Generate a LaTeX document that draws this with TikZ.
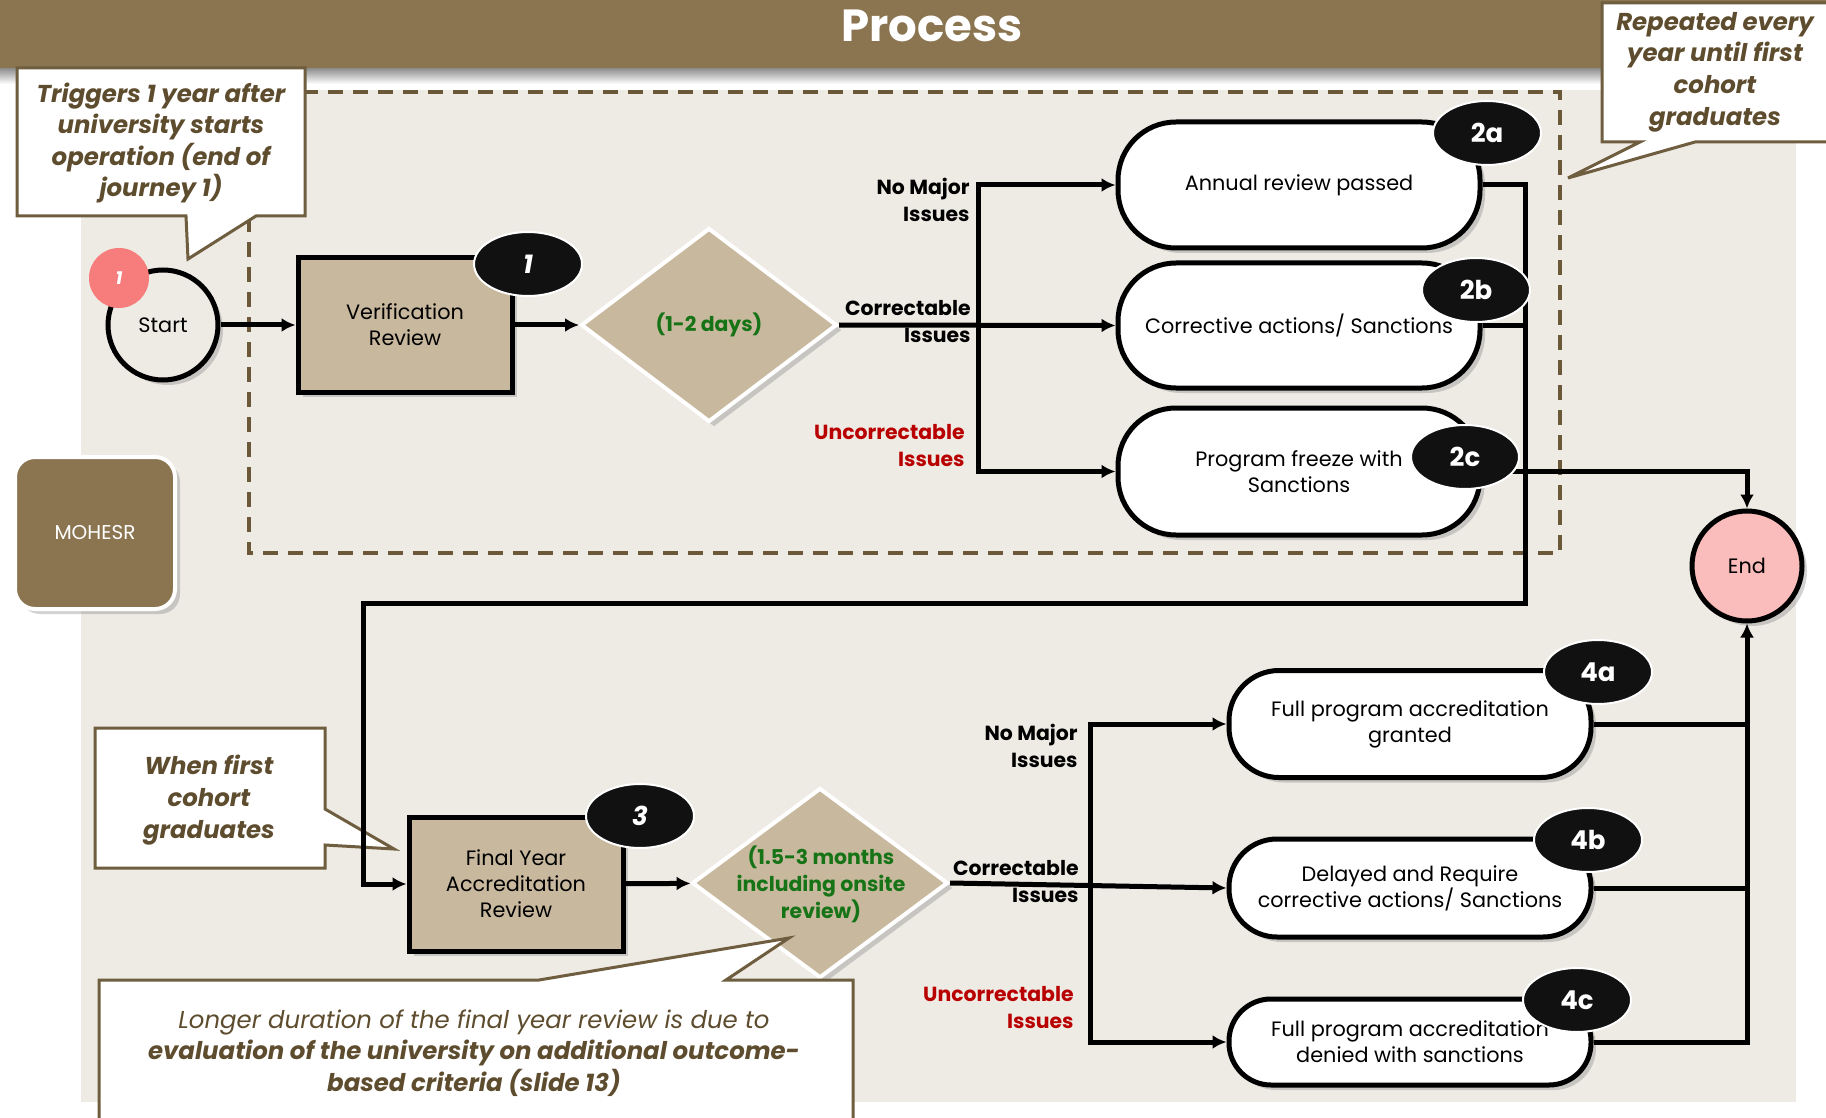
\documentclass[tikz,border=0pt]{standalone}
\usepackage{fontspec}
\setmainfont{Poppins}
\usetikzlibrary{shapes.geometric,shadows,positioning,arrows.meta}

\definecolor{barbrown}{RGB}{139,117,81}
\definecolor{bggray}{RGB}{238,234,228}
\definecolor{boxtan}{RGB}{200,184,158}
\definecolor{dashbrown}{RGB}{106,88,56}
\definecolor{notebrown}{RGB}{110,93,62}
\definecolor{notetext}{RGB}{94,76,46}
\definecolor{daygreen}{RGB}{22,115,22}
\definecolor{issuered}{RGB}{185,0,0}
\definecolor{endpink}{RGB}{251,188,188}
\definecolor{badgered}{RGB}{247,124,124}
\definecolor{badgeblack}{RGB}{17,17,17}

\newcommand\bodysize{\fontsize{10.4}{13}\selectfont}
\newcommand\lblsize{\fontsize{10.2}{13.5}\selectfont}
\newcommand\notesize{\fontsize{12.2}{15.8}\selectfont}
\newcommand\badgesize{\fontsize{13}{15}\selectfont}

\begin{document}
\begin{tikzpicture}[x=0.5pt, y=-0.5pt, >={Latex[length=7pt,width=7pt]},
	flow/.style={line width=2.5pt, black},
	shadowed/.style={drop shadow={opacity=0.35, shadow xshift=2.5pt, shadow yshift=-2.5pt}},
	stadium/.style={draw, line width=2.5pt, fill=white, minimum width=181pt,
		align=center, font=\bodysize, inner sep=0pt, shadowed},
	tanbox/.style={draw, line width=2.5pt, fill=boxtan, minimum width=107pt,
		minimum height=67pt, align=center, font=\bodysize, shadowed},
	decision/.style={diamond, draw=white, line width=2pt, fill=boxtan,
		inner sep=0pt, minimum width=128pt, shadowed},
	daytext/.style={align=center, text=daygreen, font=\lblsize\bfseries},
	terminal/.style={circle, draw, line width=2.5pt, minimum size=55pt,
		font=\bodysize, shadowed},
	badge/.style={ellipse, draw=white, line width=1pt, fill=badgeblack, text=white,
		minimum width=54pt, minimum height=32pt, inner sep=0pt, font=\badgesize\bfseries},
	branchlbl/.style={anchor=east, align=right, inner sep=0pt, font=\lblsize\bfseries},
	callout/.style={draw=notebrown, line width=1.5pt, fill=white},
	notetext/.style={align=center, text=notetext, font=\notesize\bfseries\itshape},
	]
	\useasboundingbox (0,0) rectangle (1826,1118);
	\fill[white] (0,0) rectangle (1826,1118);

	\shade[top color=black!45, bottom color=white] (0,68) rectangle (1826,84);
	\fill[barbrown] (0,0) rectangle (1826,68);
	\node[text=white, font=\fontsize{22.5}{26}\selectfont\bfseries] (title) at (932,26) {Process};

	\fill[bggray] (81,90) rectangle (1796,1102);
	\draw[dashbrown, line width=1.6pt, dash pattern=on 7.5pt off 5pt] (249,92) rectangle (1560,553);

	\node[draw=white, line width=2pt, fill=barbrown, rounded corners=10pt,
		minimum width=80pt, minimum height=76pt, text=white,
		font=\fontsize{10}{12}\selectfont, shadowed] (mohesr) at (95,533) {MOHESR};

	\node[terminal, fill=bggray] (start) at (163,325) {Start};
	\node[tanbox] (verif) at (405,325) {Verification\\Review};
	\node[decision, minimum height=97pt] (d1) at (709,325) {};
	\node[daytext] (d1t) at (d1) {(1-2 days)};

	\node[stadium, minimum height=63pt, rounded corners=29pt] (b2a) at (1299,185) {Annual review passed};
	\node[stadium, minimum height=62.5pt, rounded corners=29pt] (b2b) at (1299,325.5) {Corrective actions/ Sanctions};
	\node[stadium, minimum height=63.5pt, rounded corners=29pt] (b2c) at (1299,471.5) {Program freeze with\\Sanctions};

	\node[branchlbl] (l2a) at (970,200) {No Major\\Issues};
	\node[branchlbl] (l2b) at (971,322) {Correctable\\Issues};
	\node[branchlbl, text=issuered] (l2c) at (965,446) {Uncorrectable\\Issues};

	\node[terminal, fill=endpink] (fin) at (1747,566) {End};

	\node[tanbox] (rev3) at (516,884) {Final Year\\Accreditation\\Review};
	\node[decision, minimum height=95pt] (d2) at (820,883) {};
	\node[daytext] (d2t) at (821,884) {(1.5-3 months\\including onsite\\review)};

	\node[stadium, minimum height=53.5pt, rounded corners=25pt] (b4a) at (1410,724) {Full program accreditation\\granted};
	\node[stadium, minimum height=49pt, rounded corners=24pt] (b4b) at (1410,888) {Delayed and Require\\corrective actions/ Sanctions};
	\node[stadium, minimum height=43pt, rounded corners=21pt] (b4c) at (1410,1042) {Full program accreditation\\denied with sanctions};

	\node[branchlbl] (l4a) at (1078,746) {No Major\\Issues};
	\node[branchlbl] (l4b) at (1079,882) {Correctable\\Issues};
	\node[branchlbl, text=issuered] (l4c) at (1074,1008) {Uncorrectable\\Issues};

	\draw[callout] (17,68) -- (305,68) -- (305,216) -- (256,216) -- (188,259)
		-- (186,216) -- (17,216) -- cycle;
	\node[notetext] (note1) at (161,143) {Triggers 1 year after\\university starts\\operation (end of\\journey 1)};

	\draw[callout] (1602,3) -- (1832,3) -- (1832,142) -- (1695,142) -- (1568,178)
		-- (1640,142) -- (1602,142) -- cycle;
	\node[notetext] (note2) at (1715,72) {Repeated every\\year until first\\cohort\\graduates};

	\draw[callout] (95,728) -- (325,728) -- (325,809) -- (394,849) -- (325,845)
		-- (325,868) -- (95,868) -- cycle;
	\node[notetext] (note3) at (209,800) {When first\\cohort\\graduates};

	\draw[callout] (99,980) -- (539,980) -- (789,938) -- (726,980) -- (853,980)
		-- (853,1125) -- (99,1125) -- cycle;
	\node[align=center, text=notetext, font=\notesize] (note4) at (474,1053)
		{\itshape Longer duration of the final year review is due to\\
		\bfseries\itshape evaluation of the university on additional outcome-\\
		\bfseries\itshape based criteria (slide 13)};

	\draw[flow, ->] (start) -- (verif);
	\draw[flow, ->] (verif) -- (d1);
	\coordinate (j1) at (978,325);
	\draw[flow, ->] (d1.east) -- (b2b.west);
	\draw[flow, ->] (j1) |- (b2a.west);
	\draw[flow, ->] (j1) |- (b2c.west);

	\coordinate (m1) at (1525,603);
	\coordinate (k1) at (363,603);
	\draw[flow, ->] (b2a.east) -| (m1) -- (k1) |- (rev3.west);
	\draw[flow] (b2b.east) -- (b2b.east -| m1);
	\draw[flow, ->] (b2c.east) -| (fin.north);

	\draw[flow, ->] (rev3) -- (d2);
	\coordinate (j2) at (1090,885);
	\draw[flow, ->] (d2.east) -- (b4b.west);
	\draw[flow, ->] (j2) |- (b4a.west);
	\draw[flow, ->] (j2) |- (b4c.west);
	\draw[flow, ->] (b4c.east) -| (fin.south);
	\draw[flow] (b4a.east) -- (b4a.east -| fin.south);
	\draw[flow] (b4b.east) -- (b4b.east -| fin.south);

	\node[circle, fill=badgered, text=white, minimum size=30pt, inner sep=0pt,
		font=\fontsize{9}{11}\selectfont\bfseries\itshape] (s1) at (119,278) {1};
	\node[badge, font=\badgesize\bfseries\itshape] (n1) at (528,264) {1};
	\node[badge] (n2a) at (1487,133) {2a};
	\node[badge] (n2b) at (1476,290) {2b};
	\node[badge] (n2c) at (1465,457) {2c};
	\node[badge, font=\badgesize\bfseries\itshape] (n3) at (640,816) {3};
	\node[badge] (n4a) at (1598,672) {4a};
	\node[badge] (n4b) at (1588,840) {4b};
	\node[badge] (n4c) at (1577,1000) {4c};
\end{tikzpicture}
\end{document}
